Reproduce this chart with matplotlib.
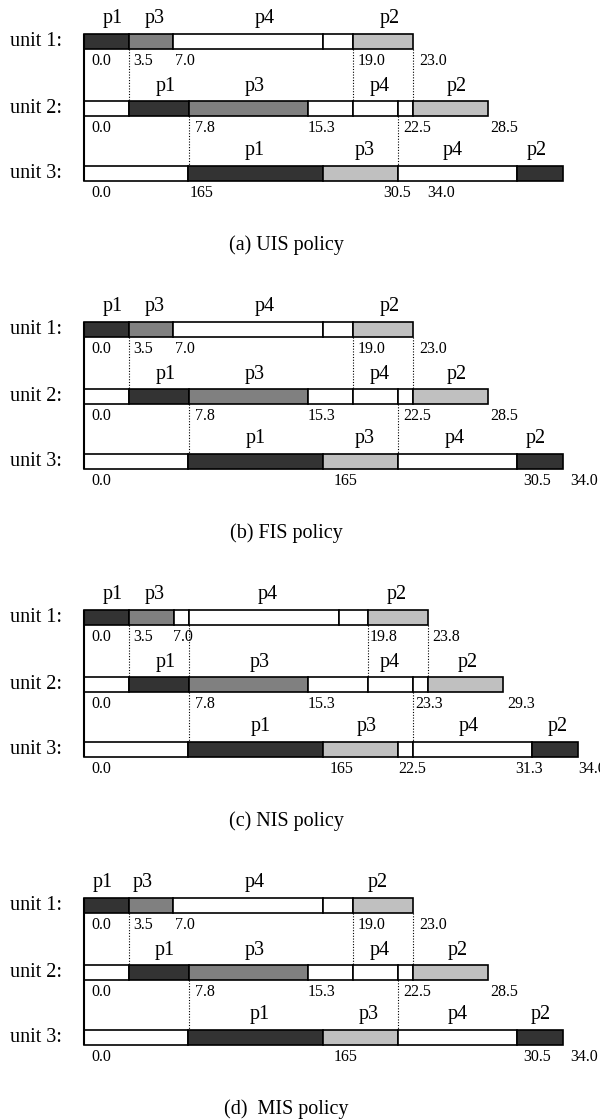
import matplotlib
matplotlib.use("Agg")
import matplotlib.pyplot as plt
from matplotlib.patches import Rectangle

plt.rcParams['font.family'] = ['Liberation Serif', 'DejaVu Serif']

# ---------------- data (x in chart units, 0 = schedule start) ----------------
# shade category of each segment: dark / mid / light / blank
# Panel (a) UIS policy
a_u1_edges = [0, 45, 89, 239, 269, 329]
a_u1_shade = ["dark", "mid", "blank", "blank", "light"]
a_u1_procs = ["p1", "p3", "p4", "p2"]
a_u1_proc_x = [29, 71, 181, 306]
a_u1_ticks = ["0.0", "3.5", "7.0", "19.0", "23.0"]
a_u1_tick_x = [7, 49, 91, 274, 335]

a_u2_edges = [0, 45, 105, 224, 269, 314, 329, 404]
a_u2_shade = ["blank", "dark", "mid", "blank", "blank", "blank", "light"]
a_u2_procs = ["p1", "p3", "p4", "p2"]
a_u2_proc_x = [82, 171, 296, 373]
a_u2_ticks = ["0.0", "7.8", "15.3", "22.5", "28.5"]
a_u2_tick_x = [7, 111, 224, 319, 406]

a_u3_edges = [0, 104, 239, 314, 433, 479]
a_u3_shade = ["blank", "dark", "light", "blank", "dark"]
a_u3_procs = ["p1", "p3", "p4", "p2"]
a_u3_proc_x = [171, 281, 369, 453]
a_u3_ticks = ["0.0", "165", "30.5", "34.0"]
a_u3_tick_x = [7, 106, 299, 343]

a_links12 = [45, 269, 329]
a_links23 = [105, 314]

# Panel (b) FIS policy
b_u1_edges = [0, 45, 89, 239, 269, 329]
b_u1_shade = ["dark", "mid", "blank", "blank", "light"]
b_u1_procs = ["p1", "p3", "p4", "p2"]
b_u1_proc_x = [29, 71, 181, 306]
b_u1_ticks = ["0.0", "3.5", "7.0", "19.0", "23.0"]
b_u1_tick_x = [7, 49, 91, 274, 335]

b_u2_edges = [0, 45, 105, 224, 269, 314, 329, 404]
b_u2_shade = ["blank", "dark", "mid", "blank", "blank", "blank", "light"]
b_u2_procs = ["p1", "p3", "p4", "p2"]
b_u2_proc_x = [82, 171, 296, 373]
b_u2_ticks = ["0.0", "7.8", "15.3", "22.5", "28.5"]
b_u2_tick_x = [7, 111, 224, 319, 406]

b_u3_edges = [0, 104, 239, 314, 433, 479]
b_u3_shade = ["blank", "dark", "light", "blank", "dark"]
b_u3_procs = ["p1", "p3", "p4", "p2"]
b_u3_proc_x = [172, 281, 371, 452]
b_u3_ticks = ["0.0", "165", "30.5", "34.0"]
b_u3_tick_x = [7, 250, 439, 486]

b_links12 = [45, 269, 329]
b_links23 = [105, 314]

# Panel (c) NIS policy
c_u1_edges = [0, 45, 90, 105, 255, 284, 344]
c_u1_shade = ["dark", "mid", "blank", "blank", "blank", "light"]
c_u1_procs = ["p1", "p3", "p4", "p2"]
c_u1_proc_x = [29, 71, 184, 313]
c_u1_ticks = ["0.0", "3.5", "7.0", "19.8", "23.8"]
c_u1_tick_x = [7, 49, 89, 286, 348]

c_u2_edges = [0, 45, 105, 224, 284, 329, 344, 419]
c_u2_shade = ["blank", "dark", "mid", "blank", "blank", "blank", "light"]
c_u2_procs = ["p1", "p3", "p4", "p2"]
c_u2_proc_x = [82, 176, 306, 384]
c_u2_ticks = ["0.0", "7.8", "15.3", "23.3", "29.3"]
c_u2_tick_x = [7, 111, 224, 331, 423]

c_u3_edges = [0, 104, 239, 314, 329, 448, 494]
c_u3_shade = ["blank", "dark", "light", "blank", "blank", "dark"]
c_u3_procs = ["p1", "p3", "p4", "p2"]
c_u3_proc_x = [177, 283, 385, 474]
c_u3_ticks = ["0.0", "165", "22.5", "31.3", "34.0"]
c_u3_tick_x = [7, 246, 314, 431, 494]

c_links12 = [45, 105, 284, 344]
c_links23 = [105, 329]

# Panel (d) MIS policy
d_u1_edges = [0, 45, 89, 239, 269, 329]
d_u1_shade = ["dark", "mid", "blank", "blank", "light"]
d_u1_procs = ["p1", "p3", "p4", "p2"]
d_u1_proc_x = [19, 59, 171, 294]
d_u1_ticks = ["0.0", "3.5", "7.0", "19.0", "23.0"]
d_u1_tick_x = [7, 49, 91, 274, 335]

d_u2_edges = [0, 45, 105, 224, 269, 314, 329, 404]
d_u2_shade = ["blank", "dark", "mid", "blank", "blank", "blank", "light"]
d_u2_procs = ["p1", "p3", "p4", "p2"]
d_u2_proc_x = [81, 171, 296, 374]
d_u2_ticks = ["0.0", "7.8", "15.3", "22.5", "28.5"]
d_u2_tick_x = [7, 111, 224, 319, 406]

d_u3_edges = [0, 104, 239, 314, 433, 479]
d_u3_shade = ["blank", "dark", "light", "blank", "dark"]
d_u3_procs = ["p1", "p3", "p4", "p2"]
d_u3_proc_x = [176, 285, 374, 457]
d_u3_ticks = ["0.0", "165", "30.5", "34.0"]
d_u3_tick_x = [7, 250, 439, 486]

d_links12 = [45, 269, 329]
d_links23 = [105, 314]

captions = ["(a) UIS policy", "(b) FIS policy", "(c) NIS policy", "(d)  MIS policy"]
unit_names = ["unit 1:", "unit 2:", "unit 3:"]

# ---------------- styling / layout ----------------
SHADE_COLOR = {"dark": "#333333", "mid": "#808080", "light": "#c0c0c0", "blank": "#ffffff"}
BAR_H = 15
ROW_OFF = [0, 67, 132]
PANEL_TOP = [34, 322, 610, 898]

panels = [
    dict(rows=[(a_u1_edges, a_u1_shade, a_u1_procs, a_u1_proc_x, a_u1_ticks, a_u1_tick_x),
               (a_u2_edges, a_u2_shade, a_u2_procs, a_u2_proc_x, a_u2_ticks, a_u2_tick_x),
               (a_u3_edges, a_u3_shade, a_u3_procs, a_u3_proc_x, a_u3_ticks, a_u3_tick_x)],
         l12=a_links12, l23=a_links23),
    dict(rows=[(b_u1_edges, b_u1_shade, b_u1_procs, b_u1_proc_x, b_u1_ticks, b_u1_tick_x),
               (b_u2_edges, b_u2_shade, b_u2_procs, b_u2_proc_x, b_u2_ticks, b_u2_tick_x),
               (b_u3_edges, b_u3_shade, b_u3_procs, b_u3_proc_x, b_u3_ticks, b_u3_tick_x)],
         l12=b_links12, l23=b_links23),
    dict(rows=[(c_u1_edges, c_u1_shade, c_u1_procs, c_u1_proc_x, c_u1_ticks, c_u1_tick_x),
               (c_u2_edges, c_u2_shade, c_u2_procs, c_u2_proc_x, c_u2_ticks, c_u2_tick_x),
               (c_u3_edges, c_u3_shade, c_u3_procs, c_u3_proc_x, c_u3_ticks, c_u3_tick_x)],
         l12=c_links12, l23=c_links23),
    dict(rows=[(d_u1_edges, d_u1_shade, d_u1_procs, d_u1_proc_x, d_u1_ticks, d_u1_tick_x),
               (d_u2_edges, d_u2_shade, d_u2_procs, d_u2_proc_x, d_u2_ticks, d_u2_tick_x),
               (d_u3_edges, d_u3_shade, d_u3_procs, d_u3_proc_x, d_u3_ticks, d_u3_tick_x)],
         l12=d_links12, l23=d_links23),
]

fig = plt.figure(figsize=(6, 11.2), dpi=100)
ax = fig.add_axes([0, 0, 1, 1])
ax.set_xlim(-84, 516)
ax.set_ylim(1120, 0)
ax.axis("off")

for p, (panel, top, cap) in enumerate(zip(panels, PANEL_TOP, captions)):
    tops = [top + o for o in ROW_OFF]
    for k, (edges, shades, procs, px, ticks, tx) in enumerate(panel["rows"]):
        y0 = tops[k]
        for s, e, sh in zip(edges[:-1], edges[1:], shades):
            ax.add_patch(Rectangle((s, y0), e - s, BAR_H, facecolor=SHADE_COLOR[sh],
                                   edgecolor="black", linewidth=1.2, zorder=3))
        ax.text(-74, y0 + BAR_H / 2, unit_names[k], ha="left", va="center", fontsize=14.5)
        for lab, x in zip(procs, px):
            ax.text(x, y0 - 15, lab, ha="center", va="center", fontsize=14.5)
        for lab, x in zip(ticks, tx):
            ax.text(x, y0 + BAR_H + 12, lab, ha="left", va="center", fontsize=11.5)
    ax.vlines(0, tops[0], tops[2] + BAR_H, color="black", linewidth=1.5, zorder=4)
    for x in panel["l12"]:
        ax.vlines(x, tops[0] + BAR_H, tops[1], color="black", linewidth=0.8,
                  linestyles=(0, (1, 1.5)), zorder=2)
    for x in panel["l23"]:
        ax.vlines(x, tops[1] + BAR_H, tops[2], color="black", linewidth=0.8,
                  linestyles=(0, (1, 1.5)), zorder=2)
    ax.text(202, top + 211, cap, ha="center", va="center", fontsize=14.5)

fig.savefig("out.png", dpi=100)
